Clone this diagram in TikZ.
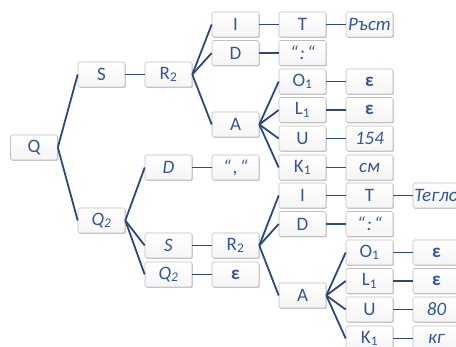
\documentclass[tikz,border=0pt]{standalone}
\usepackage{fontspec}
\setmainfont{Carlito}
\usetikzlibrary{shadows}
\definecolor{txt}{HTML}{34579A}
\definecolor{ln}{HTML}{2B4A7C}
\definecolor{bd}{HTML}{C0C0C0}
\tikzset{
  box/.style={draw=bd, line width=0.6pt, rounded corners=1.5pt, top color=white, bottom color=black!4,
    minimum width=47pt, minimum height=25pt, inner sep=0pt, text=txt, font=\fontsize{19}{19}\selectfont,
    drop shadow={shadow xshift=0.8pt, shadow yshift=-1pt, fill=black!35, opacity=0.6}},
  conn/.style={draw=ln, line width=1.8pt}
}
\newcommand{\sbs}[1]{\textsubscript{#1}}
\newcommand{\qq}[1]{“\hspace{2pt}#1\hspace{2pt}“}
\begin{document}
\begin{tikzpicture}[x=1pt,y=-1pt]
\useasboundingbox (0,0) rectangle (456,347);
\clip (0,0) rectangle (456,347);
% level 1
\node[box] (Q) at (34,147.5) {Q};
\node[box] (S) at (101.5,74.5) {S};
\node[box] (Q2) at (101.5,220.5) {\itshape Q\sbs{2}};
% upper branch
\node[box] (R2a) at (168.5,74.5) {R\sbs{2}};
\node[box] (Ia) at (235.5,24.5) {I};
\node[box] (Da) at (235.5,53) {D};
\node[box] (Aa) at (235.5,124.5) {A};
\node[box] (Ta) at (302.5,24.5) {T};
\node[box] (Ra) at (369.5,24.5) {\itshape Ръст};
\node[box] (Ca) at (302.5,53) {\itshape \qq{:}};
\node[box] (Oa) at (302.5,81.5) {O\sbs{1}};
\node[box] (La) at (302.5,110) {L\sbs{1}};
\node[box] (Ua) at (302.5,138.5) {U};
\node[box] (Ka) at (302.5,167.5) {K\sbs{1}};
\node[box] (eOa) at (369.5,81.5) {\bfseries ε};
\node[box] (eLa) at (369.5,110) {\bfseries ε};
\node[box] (vUa) at (369.5,138.5) {\itshape 154};
\node[box] (vKa) at (369.5,167.5) {\itshape см};
% lower branch
\node[box] (Db) at (168.5,167.5) {\itshape D};
\node[box] (Cb) at (235.5,167.5) {\itshape \qq{,}};
\node[box] (Sb) at (168.5,245.5) {\itshape S};
\node[box] (Qb) at (168.5,274.5) {\itshape Q\sbs{2}};
\node[box] (R2b) at (235.5,245.5) {R\sbs{2}};
\node[box] (eb) at (235.5,274.5) {\bfseries ε};
\node[box] (Ib) at (302.5,195.5) {I};
\node[box] (Dbb) at (302.5,224) {D};
\node[box] (Ab) at (302.5,295.5) {A};
\node[box] (Tb) at (369.5,195.5) {T};
\node[box] (Wb) at (436.5,195.5) {\itshape Тегло};
\node[box] (Cbb) at (369.5,224) {\itshape \qq{:}};
\node[box] (Ob) at (369.5,252.5) {O\sbs{1}};
\node[box] (Lb) at (369.5,281) {L\sbs{1}};
\node[box] (Ub) at (369.5,309.5) {U};
\node[box] (Kb) at (369.5,338.5) {K\sbs{1}};
\node[box] (eOb) at (436.5,252.5) {\bfseries ε};
\node[box] (eLb) at (436.5,281) {\bfseries ε};
\node[box] (vUb) at (436.5,309.5) {\itshape 80};
\node[box] (vKb) at (436.5,338.5) {\itshape кг};
% connectors
\foreach \a/\b in {Q/S,Q/Q2,S/R2a,R2a/Ia,R2a/Da,R2a/Aa,Ia/Ta,Ta/Ra,Da/Ca,Aa/Oa,Aa/La,Aa/Ua,Aa/Ka,
  Oa/eOa,La/eLa,Ua/vUa,Ka/vKa,Q2/Db,Db/Cb,Q2/Sb,Q2/Qb,Sb/R2b,Qb/eb,R2b/Ib,R2b/Dbb,R2b/Ab,
  Ib/Tb,Tb/Wb,Dbb/Cbb,Ab/Ob,Ab/Lb,Ab/Ub,Ab/Kb,Ob/eOb,Lb/eLb,Ub/vUb,Kb/vKb}
  \draw[conn] (\a.east) -- (\b.west);
\end{tikzpicture}
\end{document}
